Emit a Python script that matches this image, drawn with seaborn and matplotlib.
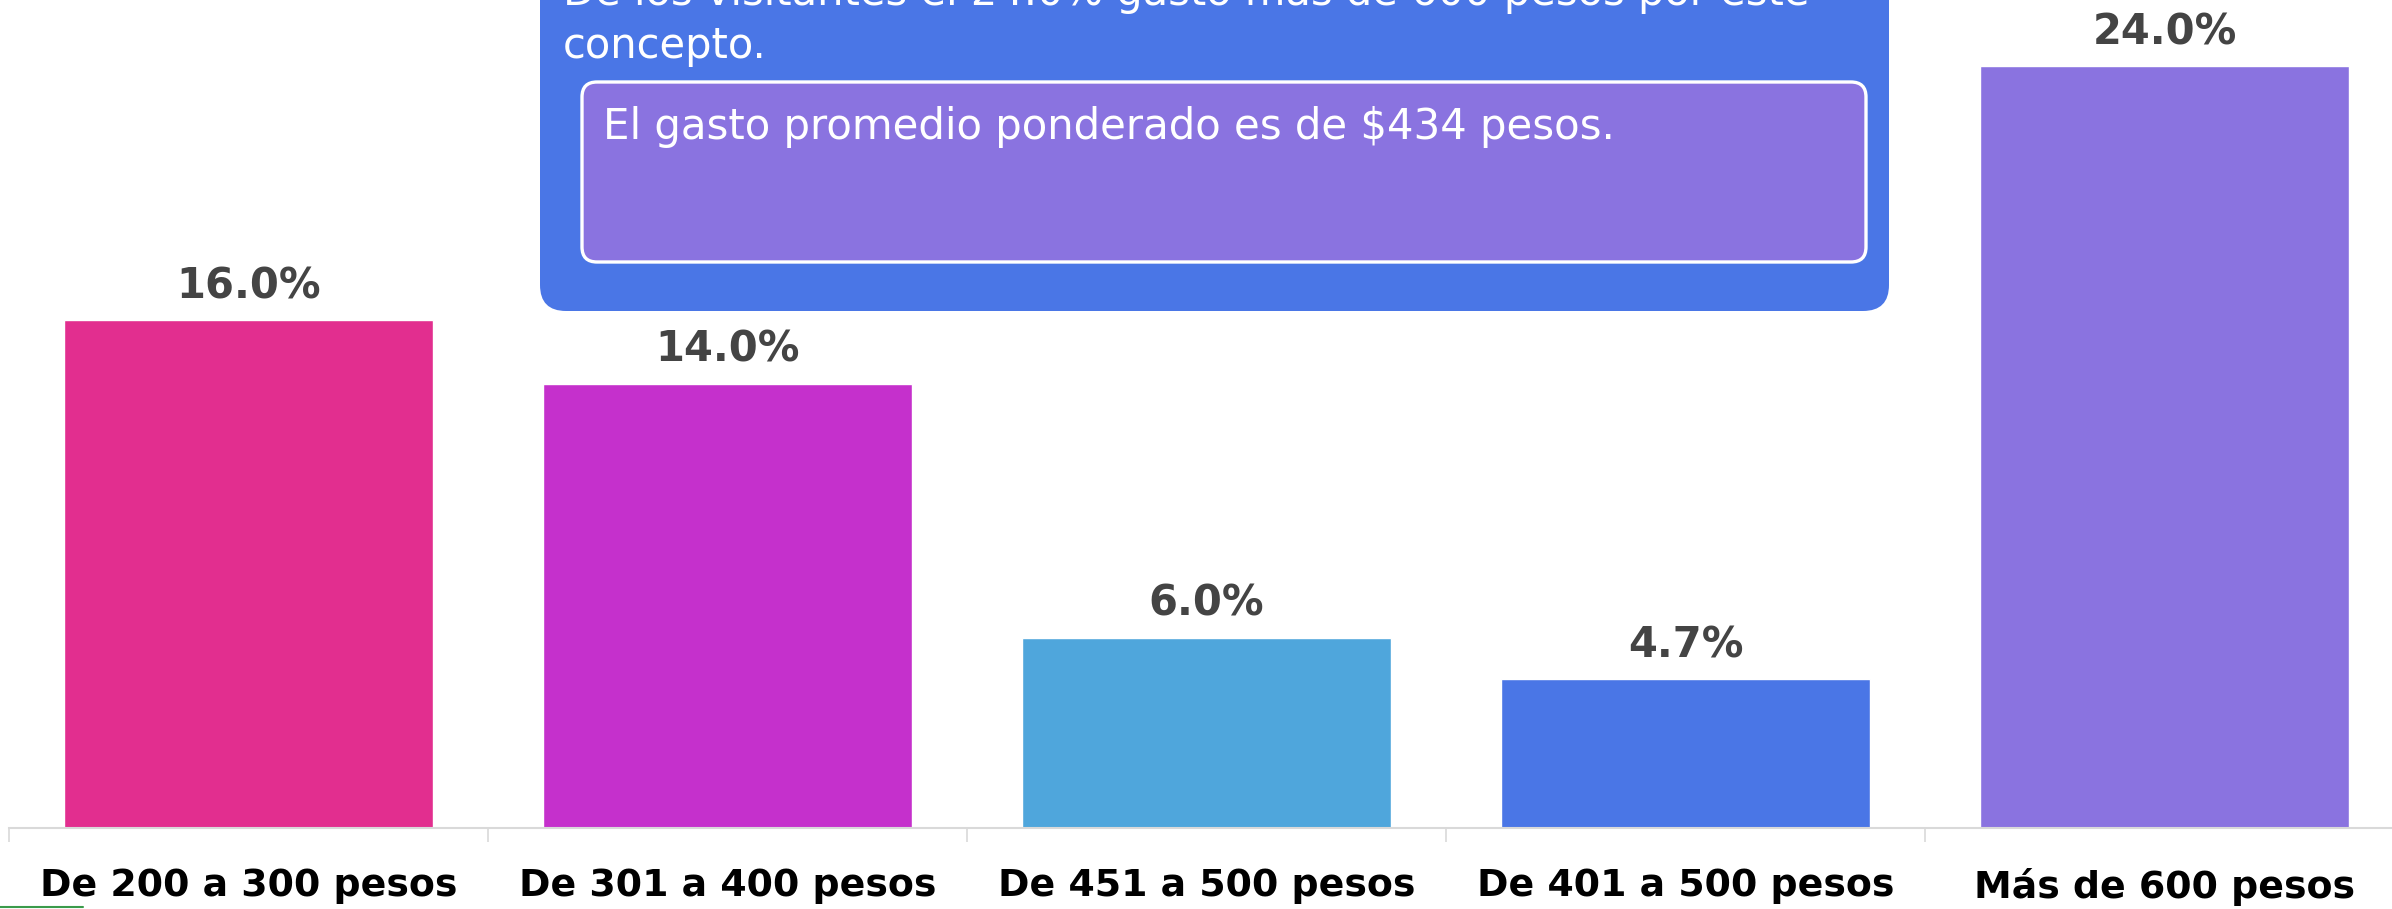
import numpy as np
import pandas as pd
import matplotlib
matplotlib.use("Agg")
import matplotlib.pyplot as plt
import seaborn as sns
from matplotlib.patches import FancyBboxPatch
from matplotlib.lines import Line2D

categories = ["De 200 a 300 pesos", "De 301 a 400 pesos", "De 451 a 500 pesos",
              "De 401 a 500 pesos", "Más de 600 pesos"]
values = [16.0, 14.0, 6.0, 4.7, 24.0]
colors = ["#E22E8F", "#C530CC", "#4FA6DC", "#4A76E6", "#8A73E0"]
headline_lines = ["De los visitantes el 24.0% gastó más de 600 pesos por este",
                  "concepto."]
note_text = "El gasto promedio ponderado es de $434 pesos."

sns.set_theme(style="white")
plt.rcParams["font.family"] = ["DejaVu Sans"]

W, H, DPI = 2392, 909, 100
fig = plt.figure(figsize=(W / DPI, H / DPI), dpi=DPI)
ax = fig.add_axes([9 / W, (H - 828) / H, 1 - 9 / W, 828 / H])

df = pd.DataFrame({"cat": categories, "val": values})
sns.barplot(data=df, x="cat", y="val", hue="cat", palette=colors, legend=False,
            width=0.77, saturation=1, ax=ax)

ax.set_ylim(0, 828 / 31.75)
ax.set_xlim(-0.5, 4.475)
for c in ax.containers:
    ax.bar_label(c, labels=[f"{v:.1f}%" for v in c.datavalues], padding=9,
                 fontsize=30, fontweight="bold", color="#444444")

ax.set_ylabel("")
ax.set_xlabel("")
ax.set_yticks([])
for s in ["top", "right", "left"]:
    ax.spines[s].set_visible(False)
ax.spines["bottom"].set_color("#d9d9d9")
ax.spines["bottom"].set_linewidth(1.5)

ax.set_xticks(np.arange(-0.5, 4.5, 1.0))
ax.set_xticklabels([])
ax.tick_params(axis="x", which="major", length=10, width=1.2, color="#d9d9d9",
               direction="out", bottom=True)
ax.set_xticks(range(len(categories)), minor=True)
ax.set_xticklabels(categories, minor=True, fontsize=27.3, fontweight="bold",
                   color="black")
ax.tick_params(axis="x", which="minor", length=0, pad=29)

# Annotation boxes (in inches from figure bottom-left)
tr = fig.dpi_scale_trans
def px(x, y):
    return x / DPI, (H - y) / DPI

bx0, by0 = px(540, 311)
blue = FancyBboxPatch((bx0, by0), (1889 - 540) / DPI, 4.0,
                      boxstyle="round,pad=0,rounding_size=0.26",
                      facecolor="#4A76E6", edgecolor="none", transform=tr,
                      zorder=5)
fig.add_artist(blue)
ix0, iy0 = px(582, 262)
inner = FancyBboxPatch((ix0, iy0), (1866 - 582) / DPI, (262 - 82) / DPI,
                       boxstyle="round,pad=0,rounding_size=0.15",
                       facecolor="#8A73E0", edgecolor="white", linewidth=2.4,
                       transform=tr, zorder=6)
fig.add_artist(inner)

x0, y0 = px(563, 5)
fig.text(x0, y0, headline_lines[0], transform=tr, fontsize=30, color="white",
         va="baseline", ha="left", zorder=7)
x1, y1 = px(563, 58)
fig.text(x1, y1, headline_lines[1], transform=tr, fontsize=30, color="white",
         va="baseline", ha="left", zorder=7)
x2, y2 = px(603, 139)
fig.text(x2, y2, note_text, transform=tr, fontsize=30.2, color="white",
         va="baseline", ha="left", zorder=7)

fig.add_artist(Line2D([0, 83 / W], [2 / H, 2 / H], color="#3a9b4a", lw=1.5,
                      transform=fig.transFigure))

fig.savefig("out.png", dpi=DPI)
